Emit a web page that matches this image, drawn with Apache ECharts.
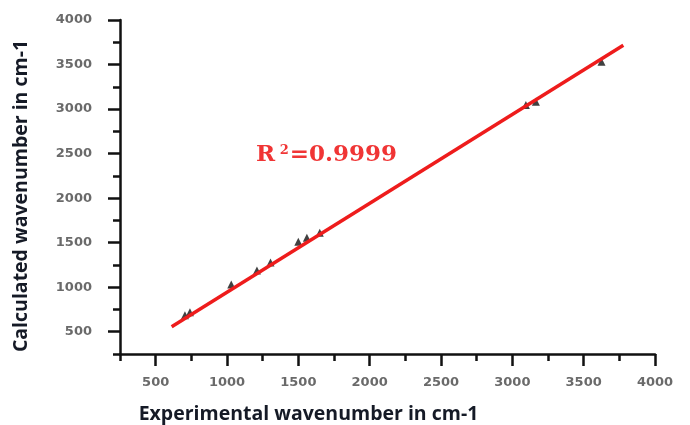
<!DOCTYPE html>
<html>
<head>
<meta charset="utf-8">
<script src="https://cdn.jsdelivr.net/npm/echarts@6/dist/echarts.min.js"></script>
<style>html,body{margin:0;padding:0;background:#fff;}#c{width:690px;height:425px;}</style>
</head>
<body>
<div id="c"></div>
<script>
// Data
var expX = [705, 740, 1030, 1210, 1305, 1500, 1560, 1650, 3095, 3165, 3625];
var calcY = [685, 718, 1030, 1188, 1278, 1510, 1556, 1612, 3045, 3082, 3530];
var fitX = [612, 3778];
var fitY = [555, 3717];
var majorTicks = [500, 1000, 1500, 2000, 2500, 3000, 3500, 4000];
var minorTicks = [250, 750, 1250, 1750, 2250, 2750, 3250, 3750];
var r2Label = '0.9999';

var pts = expX.map(function (x, i) { return [x, calcY[i]]; });
var fit = fitX.map(function (x, i) { return [x, fitY[i]]; });

var chart = echarts.init(document.getElementById('c'));
var labelStyle = { fontFamily: 'DejaVu Sans', fontWeight: 'bold', fontSize: 13, color: '#6a6a6a' };
var nameStyle = { fontFamily: 'Open Sans', fontWeight: 'bold', fontSize: 19.5, color: '#151a26' };
var lineStyle = { color: '#111', width: 2.5 };

function mainAxis(isX) {
  return {
    type: 'value', min: 250, max: 4000,
    position: isX ? 'bottom' : 'left',
    name: isX ? 'Experimental wavenumber in cm-1' : 'Calculated wavenumber in cm-1',
    nameLocation: 'middle',
    nameGap: isX ? 50 : 89,
    nameTextStyle: Object.assign({}, nameStyle, { padding: isX ? [0, 158, 0, 0] : [0, 18, 0, 0] }),
    splitLine: { show: false },
    axisLine: { show: true, lineStyle: lineStyle },
    axisTick: { show: true, customValues: majorTicks, length: 12, lineStyle: lineStyle },
    axisLabel: Object.assign({
      customValues: majorTicks, margin: isX ? 22 : 28,
      formatter: function (v) { return String(v); }
    }, labelStyle)
  };
}
function minorAxis(isX) {
  return {
    type: 'value', min: 250, max: 4000,
    position: isX ? 'bottom' : 'left',
    splitLine: { show: false },
    axisLine: { show: false },
    axisTick: { show: true, customValues: minorTicks, length: 7, lineStyle: lineStyle },
    axisLabel: { show: false }
  };
}

chart.setOption({
  animation: false,
  backgroundColor: '#fff',
  grid: { left: 120, right: 35, top: 20, bottom: 71, containLabel: false, outerBoundsMode: 'none' },
  xAxis: [mainAxis(true), minorAxis(true)],
  yAxis: [mainAxis(false), minorAxis(false)],
  graphic: [{
    type: 'text', left: 256, top: 144,
    style: {
      text: '{r|R}{s| 2}{r|=' + r2Label + '}',
      rich: {
        r: { fontFamily: 'DejaVu Serif', fontWeight: 'bold', fontSize: 23, fill: '#f03535' },
        s: { fontFamily: 'DejaVu Serif', fontWeight: 'bold', fontSize: 13, fill: '#f03535', verticalAlign: 'top', padding: [0, 1, 10, 0] }
      }
    }
  }],
  series: [
    {
      type: 'scatter', data: pts, symbol: 'triangle', symbolSize: 8,
      itemStyle: { color: '#111' }, z: 2
    },
    {
      type: 'line', data: fit, showSymbol: false, symbol: 'none',
      lineStyle: { color: '#ee1c1c', width: 3.5 }, z: 3
    }
  ]
});
</script>
</body>
</html>
